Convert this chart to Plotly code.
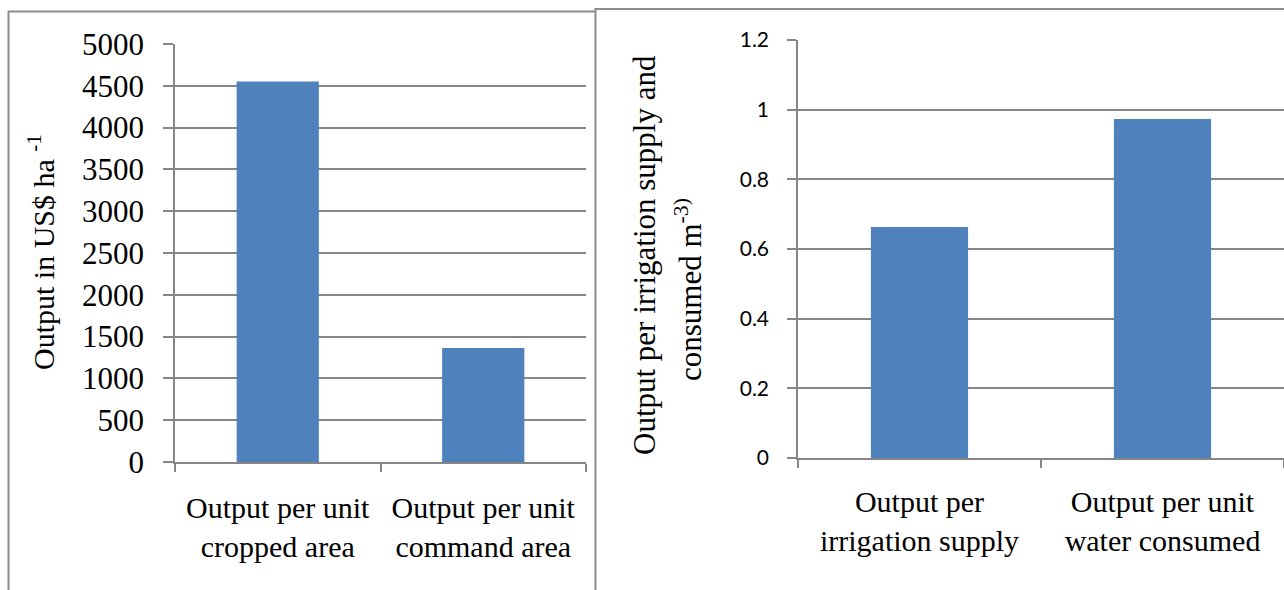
import plotly.graph_objects as go

W, H = 1284, 590

left_categories = ["Output per unit<br>cropped area", "Output per unit<br>command area"]
left_values = [4550, 1365]
left_ticks = [0, 500, 1000, 1500, 2000, 2500, 3000, 3500, 4000, 4500, 5000]

right_categories = ["Output per<br>irrigation supply", "Output per unit<br>water consumed"]
right_values = [0.663, 0.973]
right_ticks = [0, 0.2, 0.4, 0.6, 0.8, 1, 1.2]
right_tick_text = ["0", "0.2", "0.4", "0.6", "0.8", "1", "1.2"]

BAR = "#4F81BD"
GRID = "#868686"
SERIF = "Liberation Serif, Times New Roman, serif"
SANS = "Lato, Carlito, Calibri, sans-serif"


def px(x):
    return x / W


def py(y):
    return (H - y) / H


fig = go.Figure()
fig.add_trace(go.Bar(x=left_categories, y=left_values, marker=dict(color=BAR, line=dict(width=0)),
                     xaxis="x", yaxis="y", showlegend=False))
fig.add_trace(go.Bar(x=right_categories, y=right_values, marker=dict(color=BAR, line=dict(width=0)),
                     xaxis="x2", yaxis="y2", showlegend=False))

common_x = dict(type="category", showgrid=False, showline=True, linecolor=GRID, linewidth=1.5,
                ticks="outside", tickson="boundaries", ticklen=8, tickcolor=GRID, tickwidth=1.5,
                zeroline=False, automargin=False)

fig.update_layout(
    template="none",
    width=W, height=H,
    margin=dict(l=0, r=0, t=0, b=0, autoexpand=False),
    paper_bgcolor="white", plot_bgcolor="white",
    bargap=0.6,
    xaxis=dict(domain=[px(175), px(586)], anchor="y",
               tickfont=dict(family=SERIF, size=30, color="black"), ticklabelstandoff=18,
               **common_x),
    yaxis=dict(domain=[py(462), py(44)], anchor="x", range=[0, 5000],
               tickvals=left_ticks, ticktext=[str(v) for v in left_ticks],
               tickfont=dict(family=SERIF, size=31, color="black"),
               showgrid=True, gridcolor=GRID, gridwidth=1.5,
               showline=True, linecolor=GRID, linewidth=1.5,
               ticks="outside", ticklen=10, tickcolor=GRID, tickwidth=1.5,
               ticklabelstandoff=13, zeroline=False, automargin=False),
    xaxis2=dict(domain=[px(798), 1], anchor="y2",
                tickfont=dict(family=SERIF, size=30, color="black"), ticklabelstandoff=16,
                **common_x),
    yaxis2=dict(domain=[py(458), py(40)], anchor="x2", range=[0, 1.2],
                tickvals=right_ticks, ticktext=right_tick_text,
                tickfont=dict(family=SANS, size=21, color="black"),
                showgrid=True, gridcolor=GRID, gridwidth=1.5,
                showline=True, linecolor=GRID, linewidth=1.5,
                ticks="outside", ticklen=9, tickcolor=GRID, tickwidth=1.5,
                ticklabelstandoff=14, zeroline=False, automargin=False),
)

# axis titles
fig.add_annotation(text="Output in US$ ha <sup>-1</sup>", textangle=-90,
                   x=px(41), y=py(252), xref="paper", yref="paper",
                   xanchor="center", yanchor="middle", showarrow=False,
                   font=dict(family=SERIF, size=30, color="black"))
fig.add_annotation(text="Output per irrigation supply and", textangle=-90,
                   x=px(645), y=py(255), xref="paper", yref="paper",
                   xanchor="center", yanchor="middle", showarrow=False,
                   font=dict(family=SERIF, size=31, color="black"))
fig.add_annotation(text="consumed m<sup>-3)</sup>", textangle=-90,
                   x=px(688), y=py(289), xref="paper", yref="paper",
                   xanchor="center", yanchor="middle", showarrow=False,
                   font=dict(family=SERIF, size=31, color="black"))

# panel borders
BORDER = "#8C8C8C"
fig.add_shape(type="line", xref="paper", yref="paper", x0=px(8.5), x1=px(8.5), y0=py(11), y1=py(600),
              line=dict(color=BORDER, width=2))
fig.add_shape(type="line", xref="paper", yref="paper", x0=px(8), x1=px(596), y0=py(11.5), y1=py(11.5),
              line=dict(color=BORDER, width=2))
fig.add_shape(type="line", xref="paper", yref="paper", x0=px(595.5), x1=px(595.5), y0=py(8), y1=py(600),
              line=dict(color=BORDER, width=2))
fig.add_shape(type="line", xref="paper", yref="paper", x0=px(595), x1=px(1290), y0=py(9), y1=py(9),
              line=dict(color=BORDER, width=2))

fig.write_html("out.html")
